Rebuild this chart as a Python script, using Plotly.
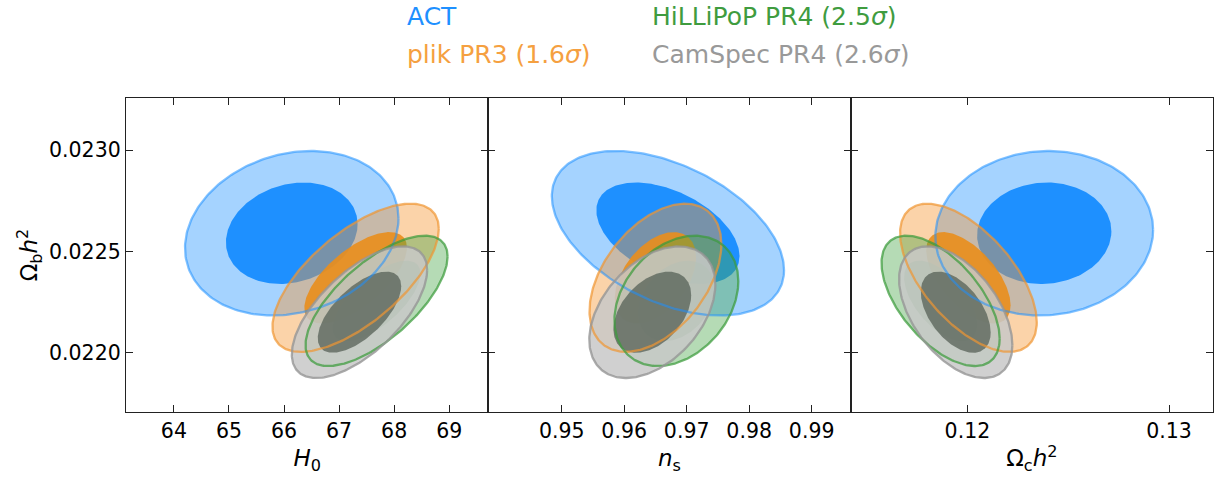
import numpy as np
import plotly.graph_objects as go
from plotly.subplots import make_subplots

# ---- data ----
datasets = ["ACT", "plik PR3", "HiLLiPoP PR4", "CamSpec PR4"]
tension = [None, "1.6", "2.5", "2.6"]

# Omega_b h^2 marginal (shared y parameter): mean, sigma
ombh2_mean = [0.02259, 0.02237, 0.022256, 0.02220]
ombh2_sig = [0.000166, 0.0001495, 0.0001315, 0.0001328]

# H0 panel: mean, sigma, correlation with Omega_b h^2
H0_mean = [66.14, 67.30, 67.68, 67.37]
H0_sig = [0.792, 0.617, 0.527, 0.502]
H0_rho = [0.18, 0.66, 0.68, 0.64]

# n_s panel
ns_mean = [0.9670, 0.9650, 0.96835, 0.9645]
ns_sig = [0.00759, 0.00431, 0.00405, 0.00412]
ns_rho = [-0.45, 0.45, 0.30, 0.42]

# Omega_c h^2 panel
omch2_mean = [0.12381, 0.12005, 0.11867, 0.11942]
omch2_sig = [0.002206, 0.001385, 0.001197, 0.001148]
omch2_rho = [0.04, -0.60, -0.58, -0.50]

x_ticks_H0 = [64, 65, 66, 67, 68, 69]
x_ticks_ns = [0.95, 0.96, 0.97, 0.98, 0.99]
x_ticks_omch2 = [0.12, 0.13]
y_ticks = [0.0220, 0.0225, 0.0230]

# ---- styles ----
outer_col = ["rgba(30,144,255,0.4)", "rgba(245,150,50,0.42)",
             "rgba(70,165,70,0.4)", "rgba(200,200,200,0.85)"]
inner_col = ["rgba(30,144,255,1.0)", "rgba(232,142,30,0.92)",
             "rgba(70,150,70,0.5)", "rgba(92,102,92,0.8)"]
edge_col = ["rgba(30,144,255,0.55)", "rgba(240,150,50,0.7)",
            "rgba(60,155,60,0.72)", "rgba(150,150,150,0.8)"]
legend_col = ["#1E90FF", "#F5A040", "#3F9C3F", "#999999"]

K68 = np.sqrt(-2 * np.log(1 - 0.68))
K95 = np.sqrt(-2 * np.log(1 - 0.95))


def ellipse(mx, sx, my, sy, rho, k):
    t = np.linspace(0, 2 * np.pi, 241)
    x = mx + k * sx * np.cos(t)
    y = my + k * sy * (rho * np.cos(t) + np.sqrt(1 - rho ** 2) * np.sin(t))
    return x, y


fig = make_subplots(rows=1, cols=3, horizontal_spacing=0, shared_yaxes=False)

panels = [(H0_mean, H0_sig, H0_rho), (ns_mean, ns_sig, ns_rho),
          (omch2_mean, omch2_sig, omch2_rho)]

for col, (pm, ps, pr) in enumerate(panels, start=1):
    # filled regions
    for i in range(len(datasets)):
        xo, yo = ellipse(pm[i], ps[i], ombh2_mean[i], ombh2_sig[i], pr[i], K95)
        fig.add_trace(go.Scatter(
            x=xo, y=yo, mode="lines", fill="toself",
            fillcolor=outer_col[i], line=dict(width=0),
            hoverinfo="skip", showlegend=False), row=1, col=col)
        xi, yi = ellipse(pm[i], ps[i], ombh2_mean[i], ombh2_sig[i], pr[i], K68)
        fig.add_trace(go.Scatter(
            x=xi, y=yi, mode="lines", fill="toself",
            fillcolor=inner_col[i], line=dict(width=0),
            hoverinfo="skip", showlegend=False), row=1, col=col)
    # outer contour edges on top
    for i in range(len(datasets)):
        xo, yo = ellipse(pm[i], ps[i], ombh2_mean[i], ombh2_sig[i], pr[i], K95)
        fig.add_trace(go.Scatter(
            x=xo, y=yo, mode="lines", line=dict(color=edge_col[i], width=2.3),
            hoverinfo="skip", showlegend=False), row=1, col=col)

axis_common = dict(showline=True, linecolor="#222222", linewidth=1.3,
                   mirror="ticks", ticks="inside", ticklen=7, tickwidth=1.1,
                   tickcolor="#222222", showgrid=False, zeroline=False,
                   automargin=False,
                   tickfont=dict(family="DejaVu Sans", size=20.5, color="black"))

xranges = [[63.13, 69.71], [0.93826, 0.99624], [0.11421, 0.13218]]
xtickvals = [x_ticks_H0, x_ticks_ns, x_ticks_omch2]
xtitles = ["<i>H</i><sub>0</sub>", "<i>n</i><sub>s</sub>",
           "Ω<sub>c</sub><i>h</i><sup>2</sup>"]
for c in range(3):
    fig.update_xaxes(range=xranges[c], tickvals=xtickvals[c],
                     ticktext=[("%g" % v) for v in xtickvals[c]],
                     title=dict(text=xtitles[c], standoff=8,
                                font=dict(family="DejaVu Sans", size=23, color="black")),
                     **axis_common, row=1, col=c + 1)
    fig.update_yaxes(range=[0.021707, 0.023258], tickvals=y_ticks,
                     ticktext=["%.4f" % v for v in y_ticks],
                     showticklabels=(c == 0), **axis_common, row=1, col=c + 1)

fig.update_yaxes(title=dict(text="Ω<sub>b</sub><i>h</i><sup>2</sup>", standoff=4,
                            font=dict(family="DejaVu Sans", size=23, color="black")),
                 row=1, col=1)

# legend as coloured text
leg_pos = [(0.257, 1.261), (0.257, 1.140), (0.482, 1.261), (0.482, 1.140)]
for i, name in enumerate(datasets):
    label = name if tension[i] is None else f"{name} ({tension[i]}<i>σ</i>)"
    fig.add_annotation(text=label, x=leg_pos[i][0], y=leg_pos[i][1],
                       xref="paper", yref="paper", xanchor="left", yanchor="middle",
                       showarrow=False,
                       font=dict(family="DejaVu Sans", size=25, color=legend_col[i]))

fig.update_layout(width=1216, height=478, plot_bgcolor="white",
                  paper_bgcolor="white",
                  margin=dict(l=126, r=3, t=98, b=66, autoexpand=False),
                  font=dict(family="DejaVu Sans"))

fig.write_html("out.html", config={"displayModeBar": False},
               post_script="document.body.style.margin='0';document.body.style.padding='0';")
